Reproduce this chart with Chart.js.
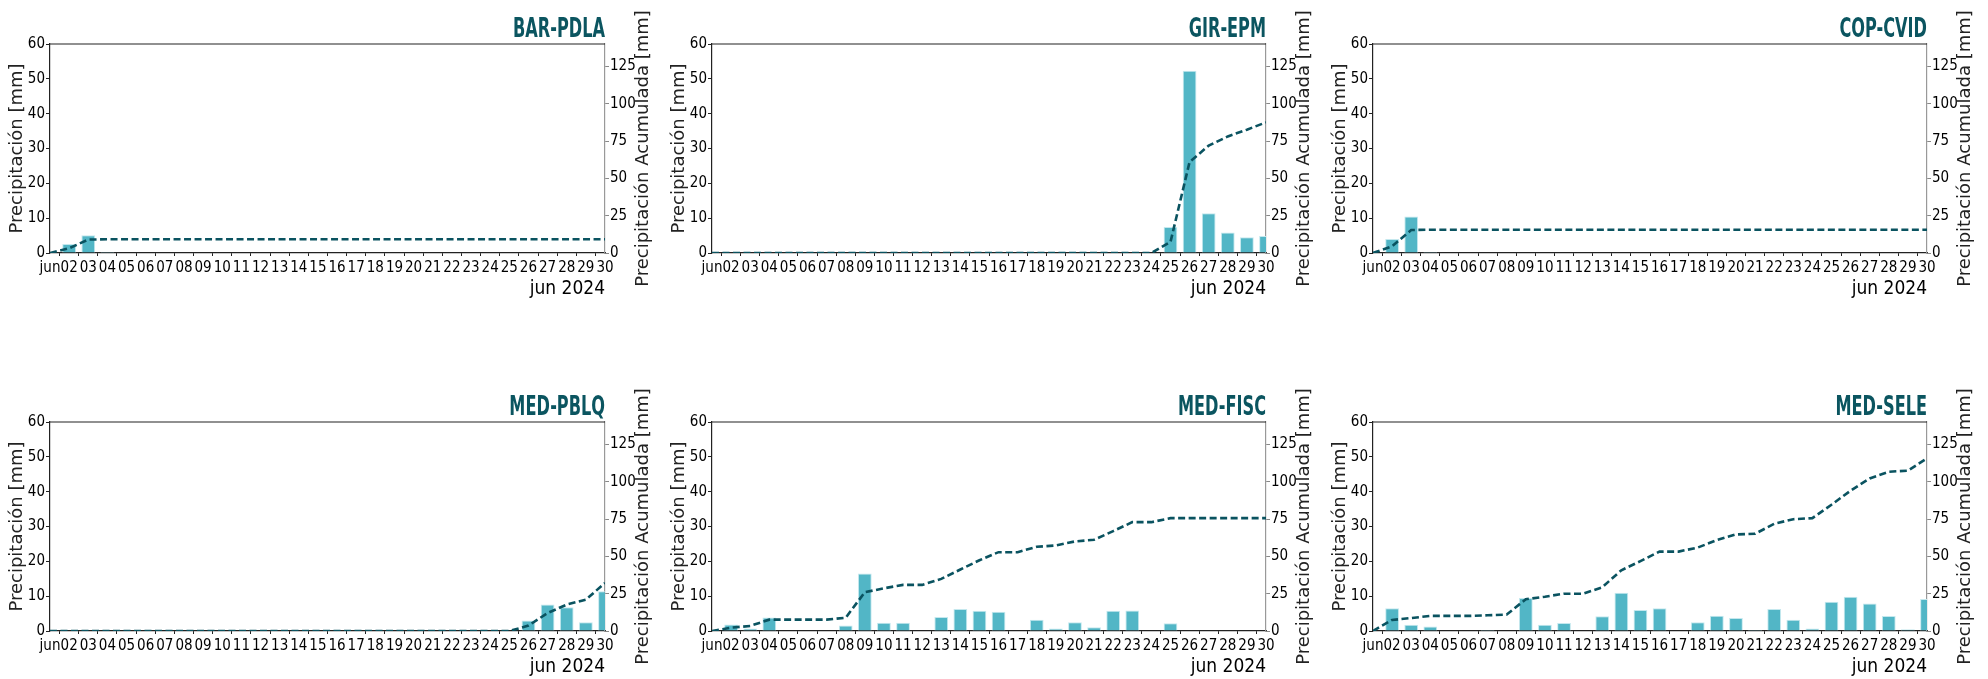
<!DOCTYPE html>
<html>
<head>
<meta charset="utf-8">
<script src="https://cdn.jsdelivr.net/npm/chart.js@4.4.1/dist/chart.umd.min.js"></script>
<style>
    body { margin: 0; background: #fff; }
    #wrap { position: relative; width: 1988px; height: 679px; overflow: hidden; }
    canvas { position: absolute; }
</style>
</head>
<body>
<div id="wrap">
    <canvas id="c0" width="665" height="305"></canvas>
    <canvas id="c1" width="664" height="305"></canvas>
    <canvas id="c2" width="664" height="305"></canvas>
    <canvas id="c3" width="665" height="305"></canvas>
    <canvas id="c4" width="664" height="305"></canvas>
    <canvas id="c5" width="664" height="305"></canvas>
</div>
<script>
let dayLabels = ['jun', '02', '03', '04', '05', '06', '07', '08', '09', '10',
    '11', '12', '13', '14', '15', '16', '17', '18', '19', '20',
    '21', '22', '23', '24', '25', '26', '27', '28', '29', '30'];

let stations = ['BAR-PDLA', 'GIR-EPM', 'COP-CVID', 'MED-PBLQ', 'MED-FISC', 'MED-SELE'];

// daily rain [mm], jun 01 .. jun 30
let rainBarPdla = [0, 2.6, 5.1, 0.3, 0, 0, 0, 0, 0, 0, 0, 0, 0, 0, 0, 0, 0, 0, 0, 0, 0, 0, 0, 0, 0, 0, 0, 0, 0, 0];
let rainGirEpm = [0, 0, 0, 0, 0, 0, 0, 0, 0, 0, 0, 0, 0, 0, 0, 0, 0, 0, 0, 0, 0, 0, 0, 0, 7.5, 52.3, 11.4, 5.9, 4.5, 4.9];
let rainCopCvid = [0, 4.0, 10.5, 0.3, 0, 0, 0, 0, 0, 0, 0, 0, 0, 0, 0, 0, 0, 0, 0, 0, 0, 0, 0, 0, 0, 0, 0, 0, 0, 0];
let rainMedPblq = [0, 0, 0, 0, 0, 0, 0, 0, 0, 0, 0, 0, 0, 0, 0, 0, 0, 0, 0, 0, 0, 0, 0, 0, 0, 3.0, 7.6, 6.8, 2.5, 11.4];
let rainMedFisc = [0, 1.9, 0.7, 3.9, 0, 0, 0, 1.6, 16.5, 2.4, 2.4, 0, 4.0, 6.3, 5.8, 5.5, 0, 3.2, 0.7, 2.5, 1.1, 5.8, 5.9, 0, 2.2, 0, 0, 0, 0, 0];
let rainMedSele = [0, 6.5, 1.8, 1.3, 0, 0, 0.3, 0, 9.5, 1.8, 2.3, 0, 4.2, 11.0, 6.0, 6.5, 0, 2.5, 4.4, 3.7, 0.3, 6.3, 3.2, 0.7, 8.4, 9.8, 7.9, 4.3, 0.5, 9.2];

// accumulated rain [mm]
let accBarPdla = [0, 3.2, 9.0, 9.2, 9.2, 9.2, 9.2, 9.2, 9.2, 9.2, 9.2, 9.2, 9.2, 9.2, 9.2, 9.2, 9.2, 9.2, 9.2, 9.2, 9.2, 9.2, 9.2, 9.2, 9.2, 9.2, 9.2, 9.2, 9.2, 9.2];
let accGirEpm = [0, 0, 0, 0, 0, 0, 0, 0, 0, 0, 0, 0, 0, 0, 0, 0, 0, 0, 0, 0, 0, 0, 0, 0, 7.4, 61.0, 71.9, 78.1, 82.6, 87.5];
let accCopCvid = [0, 4.5, 15.4, 15.6, 15.6, 15.6, 15.6, 15.6, 15.6, 15.6, 15.6, 15.6, 15.6, 15.6, 15.6, 15.6, 15.6, 15.6, 15.6, 15.6, 15.6, 15.6, 15.6, 15.6, 15.6, 15.6, 15.6, 15.6, 15.6, 15.6];
let accMedPblq = [0, 0, 0, 0, 0, 0, 0, 0, 0, 0, 0, 0, 0, 0, 0, 0, 0, 0, 0, 0, 0, 0, 0, 0, 0, 3.6, 12.0, 17.7, 21.0, 32.2];
let accMedFisc = [0, 2.2, 3.4, 7.6, 7.6, 7.6, 7.6, 8.9, 26.0, 28.6, 30.9, 30.9, 34.9, 41.2, 47.4, 52.8, 52.8, 56.4, 57.3, 60.0, 61.1, 66.9, 72.9, 72.9, 75.6, 75.6, 75.6, 75.6, 75.6, 75.6];
let accMedSele = [0, 7.4, 8.7, 10.1, 10.1, 10.1, 10.5, 11.0, 21.3, 23.0, 25.0, 25.0, 29.3, 40.7, 46.8, 53.2, 53.2, 55.9, 60.9, 64.7, 65.1, 71.8, 74.9, 75.6, 84.6, 94.0, 102.2, 106.7, 107.4, 115.7];

let rainSeries = [rainBarPdla, rainGirEpm, rainCopCvid, rainMedPblq, rainMedFisc, rainMedSele];
let accSeries = [accBarPdla, accGirEpm, accCopCvid, accMedPblq, accMedFisc, accMedSele];

// plot boxes: [left, top]
let boxes = [[50, 44], [712, 44], [1373, 44],
             [50, 422], [712, 422], [1373, 422]];

let narrow = "'DejaVu Sans Condensed', 'DejaVu Sans', sans-serif";
let tickFont = { family: narrow, size: 15 };

// top spine, station name and both axis titles
let frame = {
    id: 'frame',
    afterDraw(chart) {
        let c = chart.ctx;
        let a = chart.chartArea;
        let mid = (a.top + a.bottom) / 2;
        c.save();
        c.strokeStyle = '#222';
        c.lineWidth = 1.2;
        c.beginPath();
        c.moveTo(a.left, a.top);
        c.lineTo(a.right, a.top);
        c.stroke();

        c.save();
        c.font = 'bold 26px ' + narrow;
        c.fillStyle = '#0b5560';
        c.textAlign = 'right';
        c.textBaseline = 'alphabetic';
        c.translate(a.right, a.top - 7);
        c.scale(0.69, 1);
        c.fillText(chart.options.plugins.frame.text, 0, 0);
        c.restore();

        c.font = "18px 'DejaVu Sans', sans-serif";
        c.fillStyle = '#222';
        c.textAlign = 'center';
        c.textBaseline = 'middle';
        c.save();
        c.translate(a.left - 33, mid);
        c.rotate(-Math.PI / 2);
        c.fillText('Precipitación [mm]', 0, 0);
        c.restore();
        c.save();
        c.translate(a.right + 38, mid);
        c.rotate(-Math.PI / 2);
        c.fillText('Precipitación Acumulada [mm]', 0, 0);
        c.restore();
        c.restore();
    }
};

stations.forEach((name, i) => {
    let box = boxes[i];
    let canvas = document.getElementById('c' + i);
    canvas.style.left = (box[0] - 50) + 'px';
    canvas.style.top = (box[1] - 44) + 'px';

    new Chart(canvas.getContext('2d'), {
        data: {
            labels: dayLabels,
            datasets: [{
                type: 'line',
                data: accSeries[i],
                yAxisID: 'y1',
                borderColor: '#0a5360',
                borderWidth: 2.6,
                borderDash: [7, 3.5],
                pointRadius: 0,
                tension: 0,
                clip: 0,
                order: 0
            }, {
                type: 'bar',
                data: rainSeries[i],
                yAxisID: 'y',
                backgroundColor: '#52b6c6',
                borderColor: '#c4e8ee',
                borderWidth: 1,
                barPercentage: 0.72,
                categoryPercentage: 1,
                clip: 0,
                order: 1
            }]
        },
        options: {
            responsive: false,
            animation: false,
            layout: { padding: { top: 44, left: 0, right: 0, bottom: 0 } },
            plugins: {
                legend: { display: false },
                tooltip: { enabled: false },
                frame: { text: name }
            },
            scales: {
                x: {
                    offset: false,
                    grid: { display: true, drawOnChartArea: false, tickLength: 3, color: '#222' },
                    border: { display: true, color: '#222', width: 1.2 },
                    ticks: { autoSkip: false, maxRotation: 0, minRotation: 0, padding: 3, color: '#000', font: tickFont },
                    title: { display: true, text: 'jun 2024', align: 'end', color: '#000', padding: { top: 0, bottom: 5 },
                        font: { family: narrow, size: 19 } },
                    afterFit: (s) => { s.height = 52; }
                },
                y: {
                    position: 'left',
                    min: 0,
                    max: 60,
                    grid: { display: true, drawOnChartArea: false, tickLength: 4, color: '#222' },
                    border: { display: true, color: '#222', width: 1.2 },
                    ticks: { stepSize: 10, padding: 1, color: '#000', font: tickFont },
                    afterFit: (s) => { s.width = 50; }
                },
                y1: {
                    position: 'right',
                    min: 0,
                    max: 140,
                    grid: { display: true, drawOnChartArea: false, tickLength: 4, color: '#888' },
                    border: { display: true, color: '#999', width: 1.2 },
                    ticks: { stepSize: 25, padding: 1, color: '#000', font: tickFont },
                    afterBuildTicks: (s) => { s.ticks = s.ticks.filter(t => t.value % 25 === 0); },
                    afterFit: (s) => { s.width = 60; }
                }
            }
        },
        plugins: [frame]
    });
});
</script>
</body>
</html>
